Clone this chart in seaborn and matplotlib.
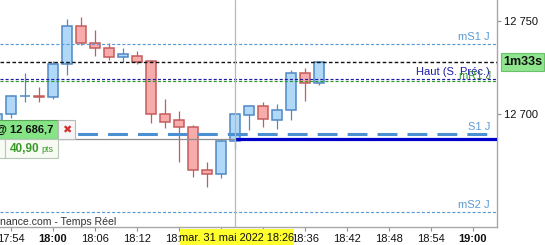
import numpy as np
import pandas as pd
import seaborn as sns
import matplotlib
matplotlib.use("Agg")
import matplotlib.pyplot as plt
from matplotlib.patches import Rectangle
import matplotlib.transforms as mtransforms

# ---------------- data ----------------
times = ["17:52", "17:54", "17:56", "17:58", "18:00", "18:02", "18:04", "18:06",
         "18:08", "18:10", "18:12", "18:14", "18:16", "18:18", "18:20", "18:22",
         "18:24", "18:26", "18:28", "18:30", "18:32", "18:34", "18:36", "18:38"]
opens = [12693.0, 12700.0, 12709.4, 12709.6, 12709.3, 12726.6, 12747.0, 12737.9,
         12735.2, 12730.4, 12730.9, 12728.2, 12699.8, 12696.6, 12692.9, 12669.8,
         12668.0, 12685.4, 12699.6, 12704.1, 12696.6, 12702.0, 12721.8, 12716.5]
highs = [12700.3, 12710.2, 12722.2, 12714.4, 12728.4, 12750.9, 12751.8, 12745.0,
         12737.9, 12735.2, 12733.8, 12728.2, 12708.0, 12701.6, 12694.0, 12674.1,
         12686.4, 12700.0, 12704.1, 12706.4, 12705.2, 12723.4, 12724.6, 12728.4]
lows = [12690.0, 12697.9, 12706.6, 12706.6, 12708.0, 12720.7, 12736.8, 12731.2,
        12728.9, 12728.0, 12726.6, 12695.3, 12692.7, 12674.4, 12666.4, 12661.0,
        12665.9, 12681.1, 12691.4, 12693.2, 12692.1, 12696.8, 12707.1, 12715.7]
closes = [12700.0, 12709.6, 12709.6, 12709.4, 12726.6, 12747.0, 12737.9, 12735.2,
          12730.4, 12732.0, 12728.0, 12699.8, 12695.9, 12692.9, 12669.8, 12668.0,
          12685.5, 12700.0, 12704.1, 12697.2, 12702.0, 12721.8, 12716.5, 12727.9]

level_mS1 = 12737.5
level_last = 12727.9
level_haut = 12718.6
level_mR1 = 12717.7
level_S1 = 12689.3
level_order = 12686.7
level_mS2 = 12647.3

xtick_labels = ["17:54", "18:00", "18:06", "18:12", "18:18", "18:24", "18:30",
                "18:36", "18:42", "18:48", "18:54", "19:00"]
bold_ticks = ["18:00", "19:00"]
ytick_values = [12700, 12750]
ytick_labels = ["12 700", "12 750"]
cursor_time = "18:26"
cursor_label = "mar. 31 mai 2022 18:26"
order_label = "@ 12 686,7"
pts_value = "40,90"
timer_label = "1m33s"
source_label = "nance.com - Temps Réel"


def to_min(s):
    h, m = s.split(":")
    return (int(h) - 18) * 60 + int(m)


df = pd.DataFrame({"t": [to_min(t) for t in times], "open": opens, "high": highs,
                   "low": lows, "close": closes})
df["up"] = df["close"] >= df["open"]

# ---------------- style ----------------
sns.set_theme(style="white")
plt.rcParams["font.family"] = ["Liberation Sans", "DejaVu Sans"]

W, H = 545, 245
fig = plt.figure(figsize=(W / 100, H / 100), dpi=100)
ax = fig.add_axes([0, 18 / H, 497 / W, 227 / H])

ax.set_xlim(-7.57, 63.43)
ax.set_ylim(12639.4, 12761.1)

blue_fill, blue_edge = "#b0d8f8", "#5189c4"
red_fill, red_edge = "#f8abab", "#c45c5c"

# candles
for up, grp in df.groupby("up"):
    fill = blue_fill if up else red_fill
    edge = blue_edge if up else red_edge
    ax.vlines(grp["t"], grp["low"], grp["high"], color=edge, lw=0.9, zorder=2)
    diff = grp["close"] - grp["open"]
    h = diff.where(diff.abs() > 0.3, np.sign(diff + 1e-9) * 0.3)
    ax.bar(grp["t"], h, bottom=grp["open"], width=1.43, color=fill,
           edgecolor=edge, linewidth=1.1, zorder=3)

thin = dict(lw=0.85, zorder=4)
dash = (0, (2.6, 1.7))
ax.axhline(level_mS1, color="#5b9bd5", ls=dash, **thin)
ax.axhline(level_last, color="#111111", ls=dash, lw=1.0, zorder=4)
ax.axhline(level_haut, color="#1c1ca8", ls=dash, **thin)
ax.axhline(level_mR1, color="#2e9a2e", ls=dash, **thin)
ax.axhline(level_mS2, color="#5b9bd5", ls=dash, **thin)
ax.axhline(level_S1, color="#4a90d2", lw=2.2, ls=(4, (6.5, 3.3)), zorder=4)

cur = to_min(cursor_time)
x0, x1 = ax.get_xlim()
ax.hlines(level_order, x0, cur, color="#8c8c8c", lw=0.9, zorder=4)
ax.hlines(level_order, cur, x1, color="#0000c8", lw=2.3, zorder=4)
ax.axvline(cur, color="#b8b8b8", lw=0.9, zorder=5)

# level labels
blend = mtransforms.blended_transform_factory(ax.transAxes, ax.transData)
off = mtransforms.offset_copy(blend, fig=fig, x=0, y=2, units="dots")
lx = 490 / 497
ax.text(lx, level_mS1, "mS1 J", color="#5b9bd5", fontsize=8, ha="right", va="bottom", transform=off)
ax.text(lx, level_haut, "Haut (S. Préc.)", color="#1c1ca8", fontsize=8, ha="right", va="bottom", transform=off)
ax.text(lx + 0.003, level_mR1 - 0.9, "mR1 J", color="#2e9a2e", fontsize=8, ha="right", va="bottom", transform=off)
ax.text(lx, level_S1, "S1 J", color="#5b9bd5", fontsize=8, ha="right", va="bottom", transform=off)
ax.text(lx, level_mS2, "mS2 J", color="#5b9bd5", fontsize=8, ha="right", va="bottom", transform=off)

# axes
for s in ["left", "top"]:
    ax.spines[s].set_visible(False)
for s in ["right", "bottom"]:
    ax.spines[s].set_color("#a8a8a8")
    ax.spines[s].set_linewidth(1)
ax.yaxis.tick_right()
ax.set_yticks(ytick_values)
ax.set_yticklabels(ytick_labels)
ax.set_xticks([to_min(t) for t in xtick_labels])
ax.set_xticklabels(xtick_labels)
for lab in ax.get_xticklabels():
    if lab.get_text() in bold_ticks:
        lab.set_fontweight("bold")
ax.tick_params(axis="both", which="both", length=3, width=0.8, color="#909090",
               labelsize=8, labelcolor="#111111", direction="out")
ax.tick_params(axis="x", bottom=True, pad=2)
ax.tick_params(axis="y", right=True, left=False, pad=2)
ax.grid(False)

ax.text(0, level_mS2 - 2.8, source_label, transform=blend, fontsize=7.6,
        color="#333333", ha="left", va="top")


# ---------------- decorations in pixel coords ----------------
def prect(x0, y0, x1, y1, **kw):
    fig.add_artist(Rectangle((x0 / W, 1 - y1 / H), (x1 - x0) / W, (y1 - y0) / H,
                             transform=fig.transFigure, **kw))


def ptext(x, y, s, **kw):
    fig.text(x / W, 1 - y / H, s, **kw)


# cursor date box
prect(180, 229, 294, 246, facecolor="#ffff2e", edgecolor="none", zorder=10)
ptext(237, 237.5, cursor_label, fontsize=7.9, ha="center", va="center", color="#111111", zorder=11)

# order box
prect(-2, 120, 58, 139, facecolor="#86e486", edgecolor="#5aa85a", lw=0.8, zorder=10)
ptext(53, 130, order_label, fontsize=8, fontweight="bold", ha="right", va="center", color="#111111", zorder=11)
prect(58, 120, 75, 139, facecolor="#f6f6f6", edgecolor="#b8b8b8", lw=0.8, zorder=10)
ptext(66.5, 130, "✖", fontsize=8, ha="center", va="center", color="#d83030", zorder=11,
      family=["DejaVu Sans"])
prect(-2, 139, 5, 158, facecolor="#f7fbf3", edgecolor="#b8c8b8", lw=0.8, zorder=10)
prect(5, 139, 58, 158, facecolor="#f7fbf3", edgecolor="#b8c8b8", lw=0.8, zorder=10)
ptext(10, 149, pts_value, fontsize=8.5, fontweight="bold", ha="left", va="center", color="#3a9a2a", zorder=11)
ptext(41, 150, "pts", fontsize=6.5, ha="left", va="center", color="#3a9a2a", zorder=11)

# timer box
prect(501, 53, 544, 71, facecolor="#8fe68f", edgecolor="#6cc06c", lw=0.8, zorder=10)
ptext(522.5, 62, timer_label, fontsize=9, fontweight="bold", ha="center", va="center", color="#111111", zorder=11)

fig.savefig("out.png", dpi=100, facecolor="white")
